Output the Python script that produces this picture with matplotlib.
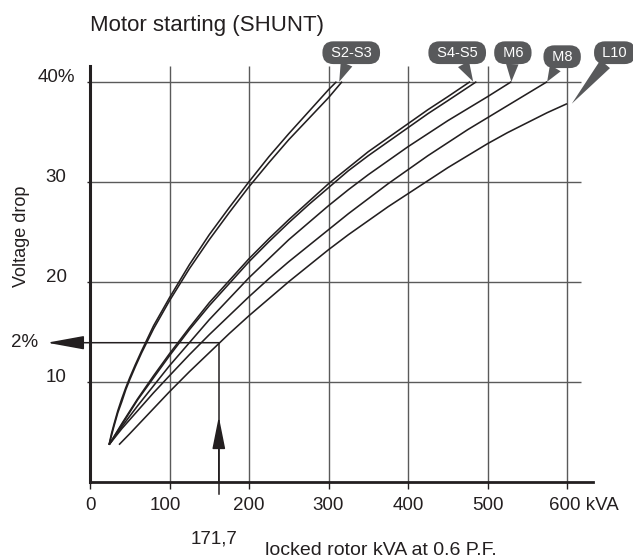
import matplotlib
matplotlib.use("Agg")
import matplotlib.pyplot as plt
from matplotlib.transforms import ScaledTranslation

plt.rcParams['font.family'] = ['Liberation Sans', 'DejaVu Sans']

# ---------------- data ----------------
s2_x = [24, 27, 30, 35, 40, 45, 50, 57, 65, 80, 100, 125, 150, 175, 200, 225, 250, 275, 300, 310]
s2_y = [3.7, 4.8, 5.7, 7.1, 8.3, 9.4, 10.4, 11.7, 13.1, 15.6, 18.4, 21.7, 24.7, 27.4, 30.0, 32.5, 34.8, 37.0, 39.2, 40.0]
s3_x = [24, 27, 30, 35, 40, 45, 50, 57, 65, 80, 100, 125, 150, 175, 200, 225, 250, 275, 300, 317]
s3_y = [3.7, 4.6, 5.5, 6.9, 8.0, 9.2, 10.2, 11.5, 12.9, 15.3, 18.1, 21.3, 24.2, 26.9, 29.5, 31.9, 34.2, 36.3, 38.4, 40.0]
s4_x = [24, 40, 60, 80, 100, 125, 150, 175, 200, 225, 250, 275, 300, 325, 350, 375, 400, 425, 450, 478]
s4_y = [3.7, 5.8, 8.3, 10.6, 12.8, 15.4, 17.9, 20.1, 22.3, 24.3, 26.2, 28.0, 29.8, 31.4, 33.0, 34.4, 35.8, 37.2, 38.5, 40.0]
s5_x = [24, 40, 60, 80, 100, 125, 150, 175, 200, 225, 250, 275, 300, 325, 350, 375, 400, 425, 450, 486]
s5_y = [3.7, 5.7, 8.2, 10.4, 12.6, 15.2, 17.6, 19.8, 22.0, 24.0, 25.9, 27.7, 29.4, 31.1, 32.6, 34.0, 35.4, 36.8, 38.1, 40.0]
m6_x = [24, 40, 60, 80, 100, 125, 150, 175, 200, 225, 250, 275, 300, 325, 350, 375, 400, 425, 450, 475, 500, 530]
m6_y = [3.7, 5.5, 7.6, 9.6, 11.6, 13.9, 16.2, 18.3, 20.4, 22.3, 24.2, 25.9, 27.6, 29.2, 30.7, 32.1, 33.5, 34.8, 36.1, 37.3, 38.5, 40.0]
m8_x = [24, 40, 60, 80, 100, 125, 150, 175, 200, 225, 250, 275, 300, 325, 350, 375, 400, 425, 450, 475, 500, 525, 550, 575]
m8_y = [3.7, 5.3, 7.1, 8.9, 10.6, 12.7, 14.7, 16.6, 18.5, 20.3, 22.0, 23.6, 25.2, 26.8, 28.3, 29.8, 31.2, 32.6, 33.9, 35.2, 36.4, 37.6, 38.8, 40.0]
l10_x = [36.5, 50, 75, 100, 125, 150, 175, 200, 225, 250, 275, 300, 325, 350, 375, 400, 425, 450, 475, 500, 525, 550, 575, 600]
l10_y = [3.7, 4.8, 6.9, 9.0, 11.0, 12.9, 14.8, 16.6, 18.3, 20.0, 21.6, 23.2, 24.7, 26.1, 27.5, 28.8, 30.1, 31.4, 32.6, 33.8, 34.9, 35.9, 36.9, 37.8]

x_ticks = [0, 100, 200, 300, 400, 500, 600]
x_tick_labels = ['0', '100', '200', '300', '400', '500', '600 kVA']
y_ticks = [10, 20, 30, 40]
y_tick_labels = ['10', '20', '30', '40%']

callout_labels = ['S2-S3', 'S4-S5', 'M6', 'M8', 'L10']

# worked example
ref_kva = 162
ref_kva_label = '171,7'
ref_drop = 13.9
ref_drop_label = '2%'

title = 'Motor starting (SHUNT)'
y_title = 'Voltage drop'
x_title = 'locked rotor kVA at 0.6 P.F.'

# ---------------- styling ----------------
INK = '#231f20'
GRID = '#5a5a5a'
BUBBLE = '#58595b'
W, H = 633, 560

fig = plt.figure(figsize=(W / 100, H / 100), dpi=100)
ax_l, ax_r, ax_b, ax_t = 90, 592.7, 481.7, 66
ax = fig.add_axes([ax_l / W, 1 - ax_b / H, (ax_r - ax_l) / W, (ax_b - ax_t) / H])
ax.set_xlim(0, 632.3)
ax.set_ylim(0, 41.57)

for s in ['top', 'right']:
    ax.spines[s].set_visible(False)
ax.spines['left'].set_linewidth(2.2)
ax.spines['bottom'].set_linewidth(2.0)
ax.spines['left'].set_color(INK)
ax.spines['bottom'].set_color(INK)

# grid
ax.vlines(x_ticks[1:], 0, 41.57, color=GRID, lw=1.0, zorder=1)
ax.hlines(y_ticks, 0, 617.6, color=GRID, lw=1.0, zorder=1)

# ticks
ax.set_xticks(x_ticks)
ax.set_xticklabels(x_tick_labels)
ax.set_yticks(y_ticks)
ax.set_yticklabels(y_tick_labels)
ax.tick_params(axis='x', direction='out', length=5, width=1, color=INK,
               labelsize=13.5, labelcolor=INK, pad=6)
ax.tick_params(axis='y', direction='out', length=2.2, width=1, color=INK,
               labelsize=13.5, labelcolor=INK, pad=14.6)
yt = ax.yaxis.get_major_ticks()
yt[-1].set_pad(8.6)
for lab in ax.get_yticklabels():
    lab.set_va('baseline')
xl = ax.get_xticklabels()
xl[-1].set_ha('left')
xl[-1].set_transform(xl[-1].get_transform() + ScaledTranslation(-18 / 100, 0, fig.dpi_scale_trans))
xl[1].set_transform(xl[1].get_transform() + ScaledTranslation(-4 / 100, 0, fig.dpi_scale_trans))

# curves
curve_kw = dict(color=INK, lw=1.15, solid_capstyle='butt', solid_joinstyle='round', zorder=3)
for xs, ys in [(s2_x, s2_y), (s3_x, s3_y), (s4_x, s4_y), (s5_x, s5_y),
               (m6_x, m6_y), (m8_x, m8_y), (l10_x, l10_y)]:
    ax.plot(xs, ys, **curve_kw)

# worked example lines / arrows
ax.plot([ref_kva, ref_kva], [-1.2, ref_drop], color=INK, lw=1.1, clip_on=False, zorder=2)
ax.annotate('', xy=(-54, ref_drop), xytext=(ref_kva, ref_drop),
            arrowprops=dict(arrowstyle='-|>,head_length=2.3,head_width=0.42', mutation_scale=10,
                            lw=1.1, color=INK, shrinkA=0, shrinkB=0),
            annotation_clip=False)
ax.annotate('', xy=(ref_kva, 6.5), xytext=(ref_kva, 0),
            arrowprops=dict(arrowstyle='-|>,head_length=2.0,head_width=0.4', mutation_scale=10,
                            lw=1.1, color=INK, shrinkA=0, shrinkB=0),
            annotation_clip=False)
ax.annotate(ref_drop_label, xy=(-54, ref_drop), xytext=(-9, 0), textcoords='offset pixels',
            ha='right', va='center', fontsize=13.5, color=INK, annotation_clip=False)
ax.annotate(ref_kva_label, xy=(ref_kva, 0), xytext=(-28, -61.3), textcoords='offset pixels',
            ha='left', va='baseline', fontsize=13.5, color=INK, annotation_clip=False)

# callout bubbles
tips = [((s2_x[-1] + s3_x[-1]) / 2, s2_y[-1]),
        ((s4_x[-1] + s5_x[-1]) / 2, s4_y[-1]),
        (m6_x[-1], m6_y[-1]),
        (m8_x[-1], m8_y[-1]),
        (l10_x[-1] + 6, l10_y[-1])]
offsets = [(12, 29), (-16, 29), (1.5, 29), (15, 25), (43, 51)]
for lab, tip, off in zip(callout_labels, tips, offsets):
    ax.annotate(' ' + lab + ' ', xy=tip, xytext=off, textcoords='offset pixels',
                ha='center', va='center', color='white', fontsize=10.5,
                bbox=dict(boxstyle='round,pad=0.3,rounding_size=0.75', fc=BUBBLE, ec='none'),
                arrowprops=dict(arrowstyle='wedge,tail_width=0.9,shrink_factor=0.5',
                                fc=BUBBLE, ec='none', shrinkA=0, shrinkB=0, mutation_scale=10),
                annotation_clip=False, zorder=5)

# titles
fig.text(90 / W, 1 - 30.7 / H, title, fontsize=16, ha='left', va='baseline', color=INK)
fig.text(21.7 / W, 1 - 236 / H, y_title, fontsize=13, rotation=90, ha='center', va='center', color=INK)
fig.text(497 / W, 1 - 555 / H, x_title, fontsize=14, ha='right', va='baseline', color=INK)

fig.savefig('out.png', dpi=100)
